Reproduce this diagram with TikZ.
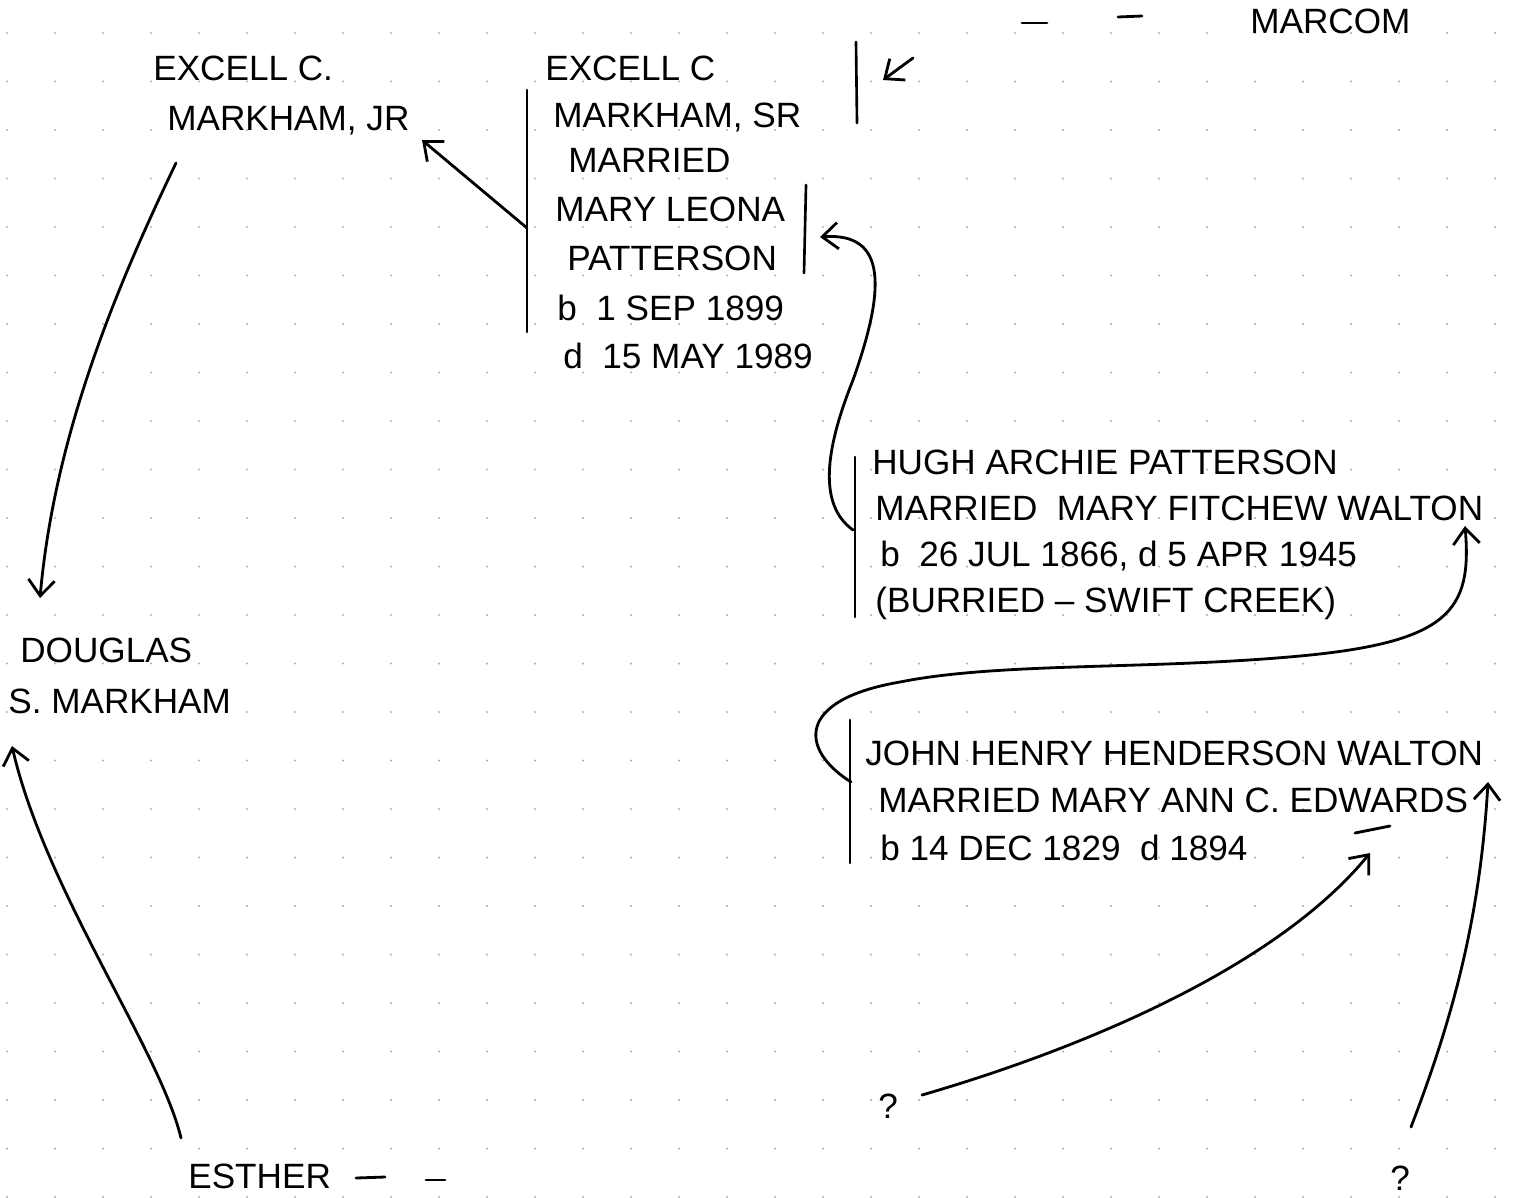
\documentclass[tikz,border=0pt]{standalone}
\usepackage{fontspec}
\setmainfont{Liberation Sans}
\usepackage{tikz}
\usetikzlibrary{arrows.meta}
\newcommand{\handfont}{\fontsize{20}{24}\selectfont}
\tikzset{
  scrawl/.style={anchor=base west,inner sep=0pt,font=\handfont},
  bar/.style={line width=1.5pt},
  pen/.style={line width=1.6pt},
  gridpt/.style={fill=gray!60}
}
\begin{document}
\begin{tikzpicture}[line cap=round,line join=round,x=0.02cm,y=-0.02cm,>={Straight Barb[length=9pt,width=15pt]}]
	\useasboundingbox (0,0) rectangle (1530,1197);
	\fill[white] (0,0) rectangle (1530,1197);
	% dotted paper
	\foreach \i in {0,...,31}
	\foreach \j in {0,...,24}
	\fill[gridpt] (7+48*\i,33+48.5*\j) circle (0.7pt);
	% top line
	\draw[pen] (1022,23) -- (1047,23);
	\draw[pen] (1118,17) -- (1142,16);
	\node[scrawl] (marcom) at (1250,33) {MARCOM};
	% Excell Jr
	\node[scrawl] (jr1) at (153,80) {EXCELL C.};
	\node[scrawl] (jr2) at (167,130) {MARKHAM, JR};
	% Excell Sr
	\node[scrawl] (sr1) at (545,80) {EXCELL C};
	\node[scrawl] (sr2) at (553,127) {MARKHAM, SR};
	\node[scrawl] (sr3) at (568,172) {MARRIED};
	\node[scrawl] (sr4) at (555,221) {MARY LEONA};
	\node[scrawl] (sr5) at (567,270) {PATTERSON};
	\node[scrawl] (sr6) at (557,320) {b\ \ 1 SEP 1899};
	\node[scrawl] (sr7) at (563,368) {d\ \ 15 MAY 1989};
	\coordinate (srtop) at (527,90);
	\coordinate (srbot) at (527,332);
	\coordinate (srmid) at (527,228);
	\draw[bar] (srtop) -- (srbot);
	\coordinate (srrt) at (856,42);
	\coordinate (srrb) at (857,123);
	\draw[bar] (srrt) -- (srrb);
	\coordinate (mlt) at (806,185);
	\coordinate (mlb) at (804,273);
	\draw[bar] (mlt) -- (mlb);
	\coordinate (kfrom) at (913,58);
	\coordinate (kto) at (883,80);
	\draw[pen,->] (kfrom) -- (kto);
	% Hugh
	\node[scrawl] (h1) at (872,474) {HUGH ARCHIE PATTERSON};
	\node[scrawl] (h2) at (875,520) {MARRIED\ \ MARY FITCHEW WALTON};
	\node[scrawl] (h3) at (880,566) {b\ \ 26 JUL 1866, d 5 APR 1945};
	\node[scrawl] (h4) at (875,612) {(BURRIED -- SWIFT CREEK)};
	\coordinate (htop) at (855,457);
	\coordinate (hbot) at (855,617);
	\draw[bar] (htop) -- (hbot);
	% John
	\node[scrawl] (j1) at (865,765) {JOHN HENRY HENDERSON WALTON};
	\node[scrawl] (j2) at (878,812) {MARRIED MARY ANN C. EDWARDS};
	\node[scrawl] (j3) at (880,860) {b 14 DEC 1829\ \ d 1894};
	\coordinate (jtop) at (850,720);
	\coordinate (jbot) at (850,863);
	\draw[bar] (jtop) -- (jbot);
	\draw[pen] (1355,833) -- (1390,826);
	% Douglas, Esther
	\node[scrawl] (d1) at (20,662) {DOUGLAS};
	\node[scrawl] (d2) at (8,713) {S. MARKHAM};
	\node[scrawl] (esther) at (188,1188) {ESTHER};
	\draw[pen] (356,1178) -- (385,1177);
	\draw[pen] (426,1180) -- (445,1180);
	\node[scrawl] (q1) at (878,1118) {?};
	\node[scrawl] (q2) at (1390,1190) {?};
	% arrows
	\coordinate (jrtip) at (422,140);
	\draw[pen,->] (srmid) -- (jrtip);
	\coordinate (jrfoot) at (176,163);
	\coordinate (dtip) at (40,598);
	\draw[pen,->] (jrfoot) .. controls (120,280) and (55,430) .. (dtip);
	\coordinate (efoot) at (181,1138);
	\coordinate (etip) at (12,746);
	\draw[pen,->] (efoot) .. controls (160,1050) and (45,890) .. (etip);
	\coordinate (hfoot) at (853,530);
	\coordinate (mltip) at (820,237);
	\draw[pen,->] (hfoot) .. controls (818,505) and (825,450) .. (853,380) .. controls (885,290) and (888,232) .. (mltip);
	\coordinate (jfoot) at (851,782);
	\coordinate (wtip) at (1465,526);
	\draw[pen,->] (jfoot) .. controls (800,750) and (795,700) .. (900,682) .. controls (1000,662) and (1150,670) .. (1300,656) .. controls (1450,642) and (1472,610) .. (wtip);
	\coordinate (q1end) at (922,1095);
	\coordinate (dtip2) at (1370,853);
	\draw[pen,->] (q1end) .. controls (1060,1055) and (1270,975) .. (dtip2);
	\coordinate (q2end) at (1411,1127);
	\coordinate (etip2) at (1488,782);
	\draw[pen,->] (q2end) .. controls (1452,1020) and (1480,920) .. (etip2);
\end{tikzpicture}
\end{document}
